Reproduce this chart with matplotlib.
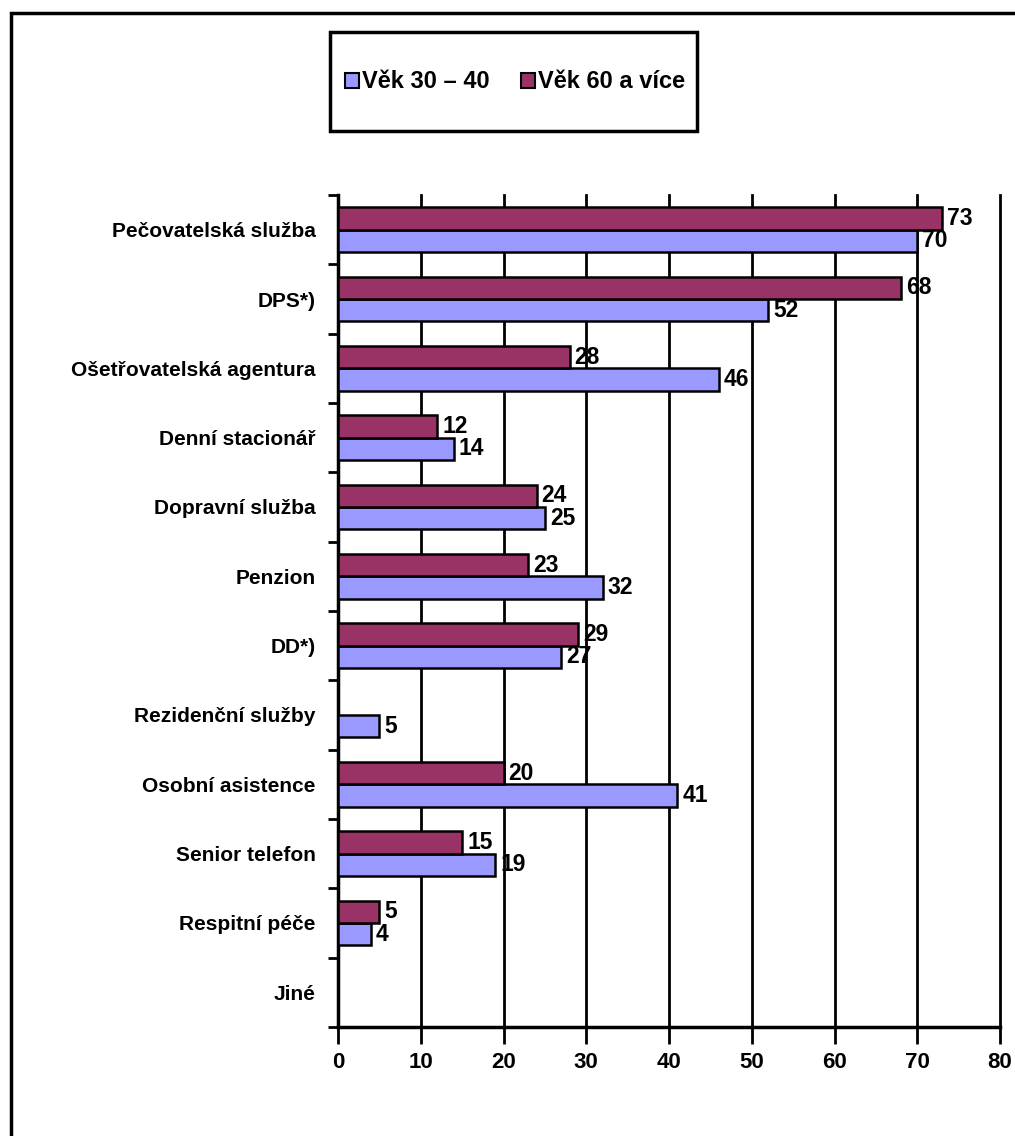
import numpy as np
import matplotlib.pyplot as plt
from matplotlib.patches import Rectangle

plt.rcParams['font.family'] = ['Liberation Sans', 'DejaVu Sans']
plt.rcParams['font.weight'] = 'bold'

# data (top to bottom)
categories = ['Pečovatelská služba', 'DPS*)', 'Ošetřovatelská agentura', 'Denní stacionář',
              'Dopravní služba', 'Penzion', 'DD*)', 'Rezidenční služby',
              'Osobní asistence', 'Senior telefon', 'Respitní péče', 'Jiné']
age_30_40 = [70, 52, 46, 14, 25, 32, 27, 5, 41, 19, 4, None]
age_60_plus = [73, 68, 28, 12, 24, 23, 29, None, 20, 15, 5, None]
series_names = ['Věk 30 – 40', 'Věk 60 a více']

blue = '#9999FF'
maroon = '#993366'

W, H = 1015, 1136
fig = plt.figure(figsize=(W / 100, H / 100), dpi=100)
# outer frame
fig.patches.append(Rectangle((11 / W, -0.05), 1.1, 1 - 13 / H + 0.05,
                             transform=fig.transFigure, fill=False,
                             edgecolor='black', linewidth=2.5))
# legend box
fig.patches.append(Rectangle((330 / W, 1 - 131 / H), 367 / W, 99 / H,
                             transform=fig.transFigure, fill=False,
                             edgecolor='black', linewidth=2.5))

ax = fig.add_axes([338 / W, 1 - 1027 / H, 662 / W, 832 / H])

n = len(categories)
y = np.arange(n)
h = 0.32

def clean(vals):
    return np.array([np.nan if v is None else v for v in vals], dtype=float)

v1 = clean(age_30_40)
v2 = clean(age_60_plus)

b1 = ax.barh(y + h / 2, np.nan_to_num(v1), height=h, color=blue,
             edgecolor='black', linewidth=1.8, label=series_names[0], zorder=3)
b2 = ax.barh(y - h / 2, np.nan_to_num(v2), height=h, color=maroon,
             edgecolor='black', linewidth=1.8, label=series_names[1], zorder=3)
for bars, vals in ((b1, v1), (b2, v2)):
    for bar, v in zip(bars, vals):
        if np.isnan(v):
            bar.set_visible(False)
            continue
        ax.text(v + 0.6, bar.get_y() + bar.get_height() / 2, f'{int(v)}',
                va='center', ha='left', fontsize=16.5, fontweight='bold', zorder=4)

ax.set_xlim(0, 80)
ax.set_ylim(n - 0.5, -0.5)
ax.set_xticks(np.arange(0, 81, 10))
ax.set_yticks(y)
ax.set_yticklabels(categories, fontsize=15, fontweight='bold')
ax.set_yticks(np.arange(n + 1) - 0.5, minor=True)
ax.tick_params(axis='y', which='major', length=0, pad=16)
ax.tick_params(axis='y', which='minor', length=7, width=2, direction='out')
ax.tick_params(axis='x', length=12, width=2, direction='out', pad=6, labelsize=16)
for lbl in ax.get_xticklabels():
    lbl.set_fontweight('bold')

ax.grid(axis='x', color='black', linewidth=2, zorder=1)
for line in ax.get_xgridlines():
    line.set_clip_on(False)
for side in ('top', 'right'):
    ax.spines[side].set_visible(False)
ax.spines['left'].set_linewidth(2.5)
ax.spines['bottom'].set_linewidth(2.5)

handles = [b1, b2]
leg = fig.legend(handles, series_names, loc='center',
                 bbox_to_anchor=(515 / W, 1 - 82 / H), ncol=2,
                 frameon=False, prop={'size': 17, 'weight': 'bold'},
                 handlelength=0.6, handleheight=0.6, handletextpad=0.15,
                 columnspacing=1.3, borderpad=0, borderaxespad=0)
for p in leg.get_patches():
    p.set_linewidth(1.5)

fig.savefig('out.png', dpi=100)
